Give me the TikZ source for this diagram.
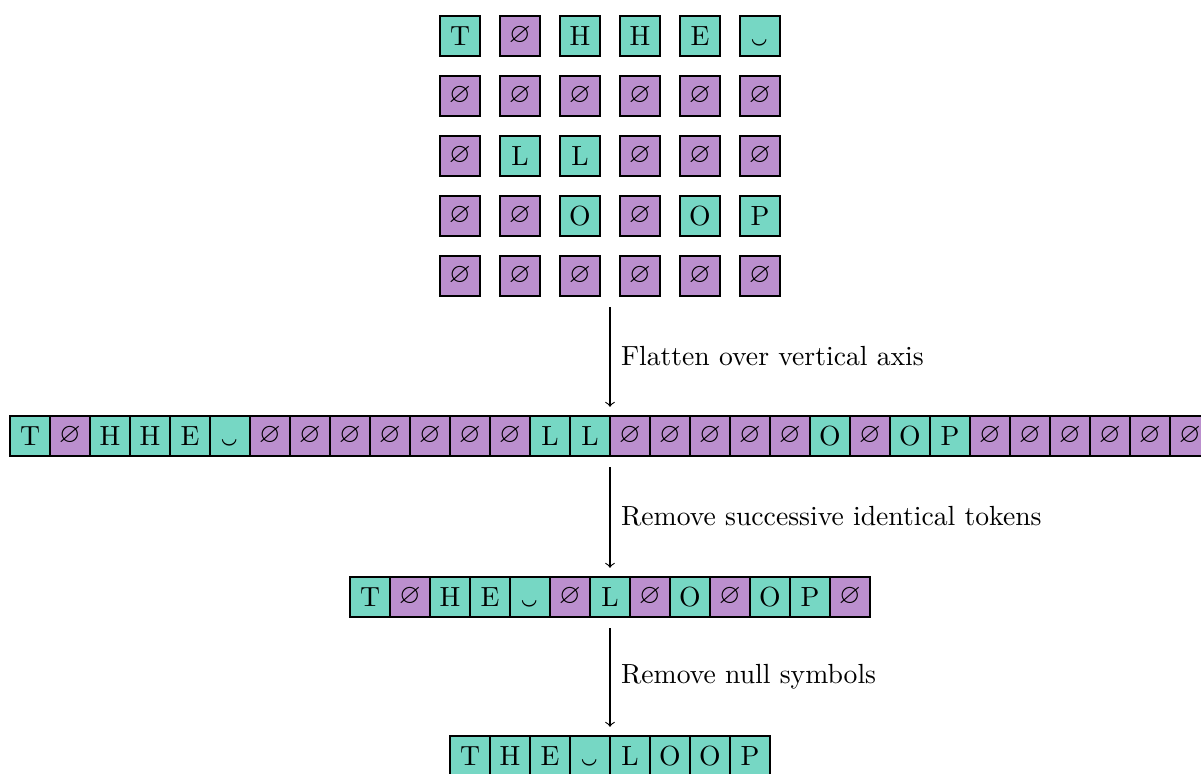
\documentclass[tikz,border=0pt]{standalone}
\usepackage{amssymb}
\usepackage{graphicx}
\usetikzlibrary{fit}
\definecolor{tealc}{HTML}{76D7C4}
\definecolor{purc}{HTML}{BB8FCE}
\newcommand\nul{\raisebox{-0.4pt}{$\varnothing$}}
\newcommand\spc{\smash{\raisebox{-10.6pt}{\scalebox{1.75}[1.35]{\char"02D8}}}}
\begin{document}
\begin{tikzpicture}[x=0.3614pt,y=-0.3614pt,
  cell/.style={draw=black, thick, minimum size=14.46pt, inner sep=0pt, outer sep=0pt},
  t/.style={cell, fill=tealc},
  p/.style={cell, fill=purc},
  rowbox/.style={inner sep=0pt, outer sep=0pt},
  flow/.style={->, shorten <=4pt, shorten >=3.3pt},
  lbl/.style={midway, right, inner sep=3.8pt}]
\useasboundingbox (0,0) rectangle (1201,774);
% grid
\foreach \row [count=\r] in {
  {t/T,p/\nul,t/H,t/H,t/E,t/\spc},
  {p/\nul,p/\nul,p/\nul,p/\nul,p/\nul,p/\nul},
  {p/\nul,t/L,t/L,p/\nul,p/\nul,p/\nul},
  {p/\nul,p/\nul,t/O,p/\nul,t/O,t/P},
  {p/\nul,p/\nul,p/\nul,p/\nul,p/\nul,p/\nul}} {
  \foreach \s/\txt [count=\c] in \row {
    \node[\s] (g-\r-\c) at (400+60*\c, -24+60*\r) {\txt};
  }
}
\node[rowbox, fit=(g-1-1)(g-5-6)] (grid) {};
% flattened
\foreach \s/\txt [count=\i] in {t/T,p/\nul,t/H,t/H,t/E,t/\spc,
  p/\nul,p/\nul,p/\nul,p/\nul,p/\nul,p/\nul,p/\nul,t/L,t/L,
  p/\nul,p/\nul,p/\nul,p/\nul,p/\nul,t/O,p/\nul,t/O,t/P,
  p/\nul,p/\nul,p/\nul,p/\nul,p/\nul,p/\nul} {
  \node[\s] (f-\i) at (-10+40*\i, 436) {\txt};
}
\node[rowbox, fit=(f-1)(f-30)] (flat) {};
% merged
\foreach \s/\txt [count=\i] in {t/T,p/\nul,t/H,t/E,t/\spc,p/\nul,t/L,p/\nul,t/O,p/\nul,t/O,t/P,p/\nul} {
  \node[\s] (m-\i) at (330+40*\i, 597) {\txt};
}
\node[rowbox, fit=(m-1)(m-13)] (mid) {};
% final
\foreach \s/\txt [count=\i] in {t/T,t/H,t/E,t/\spc,t/L,t/O,t/O,t/P} {
  \node[\s] (b-\i) at (430+40*\i, 756) {\txt};
}
\node[rowbox, fit=(b-1)(b-8)] (fin) {};
% arrows
\draw[flow] (grid.south) -- (flat.north) node[lbl] {Flatten over vertical axis};
\draw[flow] (flat.south) -- (mid.north) node[lbl] {Remove successive identical tokens};
\draw[flow] (mid.south) -- (fin.north) node[lbl] {Remove null symbols};
\end{tikzpicture}
\end{document}
